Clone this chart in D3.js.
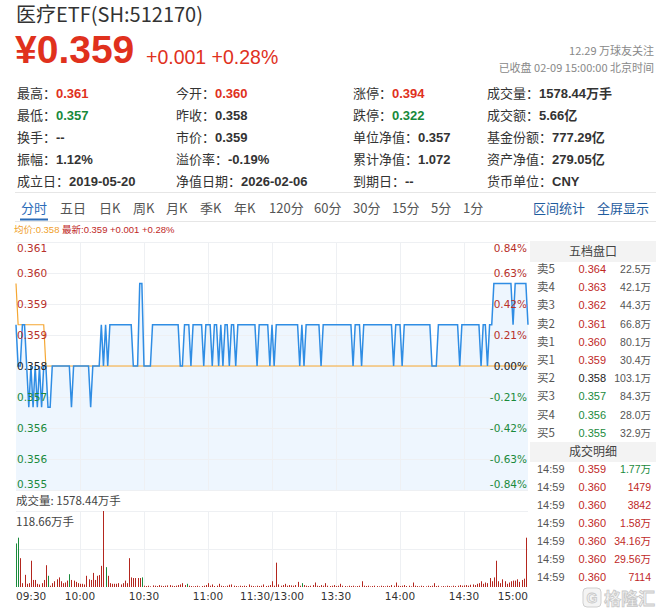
<!DOCTYPE html>
<html><head><meta charset="utf-8">
<script src="https://cdn.jsdelivr.net/npm/d3@7"></script>
<style>
html,body{margin:0;padding:0;background:#fff;}
svg{display:block;}
</style></head><body>
<svg id="c" width="656" height="615"></svg>
<script>
// ---------------- data ----------------
const title = "医疗ETF(SH:512170)";
const lastPrice = "¥0.359";
const changeText = "+0.001 +0.28%";
const followText = "12.29 万球友关注";
const statusText = "已收盘 02-09 15:00:00 北京时间";

const statLabels = [
  ["最高：","今开：","涨停：","成交量："],
  ["最低：","昨收：","跌停：","成交额："],
  ["换手：","市价：","单位净值：","基金份额："],
  ["振幅：","溢价率：","累计净值：","资产净值："],
  ["成立日：","净值日期：","到期日：","货币单位："]
];
const statValues = [
  ["0.361","0.360","0.394","1578.44万手"],
  ["0.357","0.358","0.322","5.66亿"],
  ["--","0.359","0.357","777.29亿"],
  ["1.12%","-0.19%","1.072","279.05亿"],
  ["2019-05-20","2026-02-06","--","CNY"]
];
const statColors = [
  ["up","up","up",""],
  ["down","","down",""],
  ["","","",""],
  ["","","",""],
  ["","","",""]
];

const tabs = ["分时","五日","日K","周K","月K","季K","年K","120分","60分","30分","15分","5分","1分"];
const tabLinks = ["区间统计","全屏显示"];

const prevClose = 0.358;
const avgText = "均价:0.358";
const latestText = "最新:0.359 +0.001 +0.28%";
const pctTicks = [0.84,0.63,0.42,0.21,0,-0.21,-0.42,-0.63,-0.84];
const priceTickLabels = ["0.361","0.360","0.359","0.359","0.358","0.357","0.356","0.356","0.355"];
const pctTickLabels = ["0.84%","0.63%","0.42%","0.21%","0.00%","-0.21%","-0.42%","-0.63%","-0.84%"];
const timeTicks = [0,30,60,90,120,150,180,210,240];
const timeTickLabels = ["09:30","10:00","10:30","11:00","11:30/13:00","13:30","14:00","14:30","15:00"];

// minute prices, 09:30 .. 15:00 (241 points)
const price = [
0.359,0.358,0.358,0.359,0.359,0.358,0.357,0.358,0.357,0.358,
0.357,0.358,0.357,0.358,0.358,0.357,0.357,0.358,0.358,0.358,
0.358,0.358,0.358,0.358,0.358,0.358,0.357,0.358,0.358,0.358,
0.358,0.358,0.358,0.358,0.358,0.357,0.358,0.358,0.358,0.358,
0.359,0.358,0.359,0.358,0.359,0.359,0.359,0.359,0.359,0.359,
0.359,0.359,0.359,0.359,0.359,0.358,0.358,0.358,0.360,0.360,
0.358,0.358,0.358,0.358,0.359,0.359,0.359,0.359,0.359,0.359,
0.359,0.359,0.359,0.359,0.359,0.359,0.359,0.358,0.358,0.359,
0.359,0.359,0.358,0.359,0.359,0.359,0.359,0.359,0.358,0.359,
0.359,0.359,0.358,0.359,0.359,0.358,0.359,0.358,0.359,0.359,
0.358,0.359,0.359,0.358,0.359,0.359,0.359,0.359,0.359,0.359,
0.359,0.359,0.359,0.358,0.359,0.359,0.359,0.359,0.359,0.358,
0.359,0.358,0.359,0.359,0.359,0.359,0.359,0.359,0.359,0.359,
0.359,0.359,0.359,0.358,0.359,0.358,0.359,0.359,0.359,0.359,
0.359,0.359,0.359,0.358,0.359,0.359,0.359,0.359,0.359,0.359,
0.359,0.359,0.359,0.359,0.359,0.359,0.359,0.359,0.358,0.359,
0.359,0.359,0.358,0.359,0.359,0.359,0.359,0.359,0.359,0.359,
0.359,0.359,0.359,0.359,0.359,0.359,0.359,0.358,0.359,0.359,
0.359,0.358,0.359,0.359,0.359,0.359,0.359,0.359,0.359,0.359,
0.359,0.359,0.359,0.359,0.359,0.358,0.358,0.358,0.359,0.359,
0.359,0.359,0.359,0.359,0.359,0.359,0.359,0.359,0.358,0.359,
0.359,0.359,0.359,0.359,0.359,0.359,0.359,0.359,0.358,0.359,
0.359,0.358,0.359,0.359,0.360,0.360,0.360,0.360,0.360,0.360,
0.360,0.360,0.360,0.359,0.360,0.360,0.360,0.360,0.360,0.360,0.359
];
// average price line points [minute, price]
const avgPoints = [[0,0.360],[1,0.359],[13,0.359],[14,0.358],[240,0.358]];

// minute volume, 万手
const volMaxLabel = "118.66万手";
const volTotalLabel = "成交量: 1578.44万手";
const volume = [
68,77,45,6,19,5,6,41,11,11,
5,4,6,11,34,17.5,2,6,9,12,
15,9,6,7,10,20,11,10,8,6,
5,5,4,17.5,12,11,22,11,17.5,18.6,
33,118.66,31,17.5,6,5,5,5,6,4,
6,10,6,45,15,14,14,14,14,15,
2,1.5,2,1,2.5,2,1.5,3,2,1.5,
2,2.5,3,2,1.5,2,3,4,6,3,
5,2,1.5,1,1.5,2,1,1.5,2,3,
6,2,4,1.5,2,5,2,1.5,1,2,
3.5,4,2,1.5,1,2,1.5,2,1.5,4,
2,1.5,1,2,1.5,2,4,1.5,2,3,
9,2,38,4,2,3,5,2,3,2.5,
2,3,8,2,6,3,2,1.5,2,3,
7,2,1.5,3,2,6,2,1.5,2,3,
1.5,2,5,2,1.5,1,2,1.5,2,1,
1.5,2,9,2,1.5,2,1,1.5,2,1.5,
1,2,1.5,1,2,1.5,3,2,7,2,
1.5,2,3,1.5,2,1,7,2,1.5,1,
2,1.5,1,2,1.5,2,6,1.5,2,1,
1.5,1,2,1.5,1,2,1.5,2,3,2,
2.5,3,2,3.5,4,3,5,6,9,5,
7,6,14,9,15,41,9,6,12,9,
5,7,9,10,10,12,8,11,13,77,0
];
const greenBars = [0,1,15,25,42,59,80,134];

const bookTitle = "五档盘口";
const bookLabels = ["卖5","卖4","卖3","卖2","卖1","买1","买2","买3","买4","买5"];
const bookPrices = [0.364,0.363,0.362,0.361,0.360,0.359,0.358,0.357,0.356,0.355];
const bookVols = ["22.5万","42.1万","44.3万","66.8万","80.1万","30.4万","103.1万","84.3万","28.0万","32.9万"];

const tradeTitle = "成交明细";
const tradeTimes = ["14:59","14:59","14:59","14:59","14:59","14:59","14:59"];
const tradePrices = [0.359,0.360,0.360,0.360,0.360,0.360,0.360];
const tradeVols = ["1.77万","1479","3842","1.58万","34.16万","29.56万","7114"];
const tradeSide = ["down","up","up","up","up","up","up"];

// ---------------- drawing ----------------
const CJK = "'Noto Sans CJK SC','Noto Sans',sans-serif";
const LAT = "'Liberation Sans',Arial,sans-serif";
const DV = "'DejaVu Sans',sans-serif";
const RED = "#e0311d", GREEN = "#17893b", DRED = "#c0281f", DGREEN = "#1a8a3c";
const svg = d3.select("#c");

// header
svg.append("text").attr("x",16).attr("y",22).attr("font-family",CJK).attr("font-size",20)
  .attr("fill","#333").text(title);
svg.append("text").attr("x",15).attr("y",63).attr("font-family",LAT).attr("font-size",39)
  .attr("font-weight","bold").attr("fill",RED).text(lastPrice);
svg.append("text").attr("x",146).attr("y",64).attr("font-family",LAT).attr("font-size",19.5)
  .attr("fill",RED).text(changeText);
svg.append("text").attr("x",654).attr("y",55).attr("text-anchor","end").attr("font-family",CJK)
  .attr("font-size",11).attr("fill","#888").text(followText);
svg.append("text").attr("x",654).attr("y",72).attr("text-anchor","end").attr("font-family",CJK)
  .attr("font-size",11).attr("fill","#888").text(statusText);

// stats grid
const colX = [17,176,353,487];
statLabels.forEach((row,r)=>{
  row.forEach((lab,c)=>{
    const t = svg.append("text").attr("x",colX[c]).attr("y",98+r*22).attr("font-size",13);
    t.append("tspan").attr("font-family",CJK).attr("fill","#333").text(lab);
    const col = statColors[r][c]==="up"?RED:(statColors[r][c]==="down"?GREEN:"#333");
    t.append("tspan").attr("font-family",LAT+","+CJK).attr("font-weight","bold").attr("fill",col).text(statValues[r][c]);
  });
});
svg.append("line").attr("x1",15).attr("x2",656).attr("y1",192.5).attr("y2",192.5).attr("stroke","#e6e6e6");
svg.append("line").attr("x1",15).attr("x2",656).attr("y1",221.5).attr("y2",221.5).attr("stroke","#e6e6e6");

// tabs
const tabX = [21,60,99,133,166,200,234,269,314,353,392,431,463];
tabs.forEach((t,i)=>{
  svg.append("text").attr("x",tabX[i]).attr("y",213).attr("font-family",CJK).attr("font-size",13)
    .attr("fill",i===0?"#2b6cb8":"#555").text(t);
});
svg.append("rect").attr("x",20).attr("y",218.5).attr("width",28).attr("height",2).attr("fill","#2b6cb8");
const linkX = [533,597];
tabLinks.forEach((t,i)=>{
  svg.append("text").attr("x",linkX[i]).attr("y",213).attr("font-family",CJK).attr("font-size",13)
    .attr("fill","#1f5c9e").text(t);
});

// legend
svg.append("text").attr("x",14).attr("y",233).attr("font-family",LAT+","+CJK).attr("font-size",9.5)
  .attr("fill","#f0a02a").text(avgText);
svg.append("text").attr("x",62).attr("y",233).attr("font-family",LAT+","+CJK).attr("font-size",9.5)
  .attr("fill","#c0281f").text(latestText);

// price chart
const L = 16, R = 528, T = 242, B = 490;
const x = d3.scaleLinear().domain([0,240]).range([L,R]);
const y = d3.scaleLinear().domain([prevClose*(1-0.0084), prevClose*(1+0.0084)]).range([B,T]);
const g = svg.append("g");

const area = d3.area().x((d,i)=>x(i)).y0(B).y1(d=>y(d));
g.append("path").datum(price).attr("d",area).attr("fill","#eef6fe");

pctTicks.forEach(p=>{
  const yy = Math.round(y(prevClose*(1+p/100)))+0.5;
  g.append("line").attr("x1",L).attr("x2",R).attr("y1",yy).attr("y2",yy).attr("stroke","#eef0f3");
});
timeTicks.slice(1,-1).forEach(t=>{
  const xx = Math.round(x(t))+0.5;
  g.append("line").attr("x1",xx).attr("x2",xx).attr("y1",T).attr("y2",B).attr("stroke","#eef0f3");
});

const line = d3.line().x((d,i)=>x(i)).y(d=>y(d));
g.append("path").datum(avgPoints).attr("d",d3.line().x(d=>x(d[0])).y(d=>y(d[1])))
  .attr("fill","none").attr("stroke","#f5a733").attr("stroke-width",1.2);
g.append("path").datum(price).attr("d",line).attr("fill","none").attr("stroke","#2f8de4").attr("stroke-width",1.5);

pctTicks.forEach((p,i)=>{
  let yy = y(prevClose*(1+p/100));
  yy = Math.max(248, Math.min(484, yy));
  const col = p>0?"#b8312a":(p<0?"#1a8a3c":"#222");
  g.append("text").attr("x",17).attr("y",yy+4).attr("font-family",DV).attr("font-size",10.5)
    .attr("fill",col).text(priceTickLabels[i]);
  g.append("text").attr("x",527).attr("y",yy+4).attr("text-anchor","end").attr("font-family",DV).attr("font-size",10.5)
    .attr("fill",col).text(pctTickLabels[i]);
});

// volume chart
const VT = 511, VB = 587;
const vy = d3.scaleLinear().domain([0,118.66]).range([VB,VT]);
[VT,(VT+VB)/2].forEach(v=>{
  svg.append("line").attr("x1",L).attr("x2",R).attr("y1",Math.round(v)+0.5).attr("y2",Math.round(v)+0.5).attr("stroke","#eef0f3");
});
timeTicks.slice(1,-1).forEach(t=>{
  const xx = Math.round(x(t))+0.5;
  svg.append("line").attr("x1",xx).attr("x2",xx).attr("y1",VT).attr("y2",VB).attr("stroke","#eef0f3");
});
svg.append("text").attr("x",16).attr("y",505).attr("font-family",CJK).attr("font-size",11.5)
  .attr("fill","#444").text(volTotalLabel);
svg.append("text").attr("x",16).attr("y",526).attr("font-family",CJK).attr("font-size",11.5)
  .attr("fill","#444").text(volMaxLabel);
svg.append("g").selectAll("rect").data(volume).join("rect")
  .attr("x",(d,i)=>Math.round(x(i))).attr("width",1)
  .attr("y",d=>vy(d)).attr("height",d=>VB-vy(d))
  .attr("fill",(d,i)=>greenBars.includes(i)?"#1a8a3c":"#b3261e");

timeTicks.forEach((t,i)=>{
  const anchor = i===0?"start":(i===timeTicks.length-1?"end":"middle");
  svg.append("text").attr("x",x(t)).attr("y",600).attr("text-anchor",anchor).attr("font-family",DV)
    .attr("font-size",10.5).attr("fill","#333").text(timeTickLabels[i]);
});

// right panel
const PX = 530;
svg.append("rect").attr("x",PX).attr("y",241).attr("width",656-PX).attr("height",21).attr("fill","#f3f3f3");
svg.append("text").attr("x",593).attr("y",256).attr("text-anchor","middle").attr("font-family",CJK)
  .attr("font-size",12).attr("fill","#444").text(bookTitle);
const pc = v => v>prevClose?DRED:(v<prevClose?DGREEN:"#222");
const NUMF = LAT+","+CJK;
bookLabels.forEach((lab,i)=>{
  const yy = 273 + i*18.2;
  svg.append("text").attr("x",537).attr("y",yy).attr("font-family",CJK).attr("font-size",11.5).attr("fill","#555").text(lab);
  svg.append("text").attr("x",606).attr("y",yy).attr("text-anchor","end").attr("font-family",NUMF).attr("font-size",11)
    .attr("fill",pc(bookPrices[i])).text(bookPrices[i].toFixed(3));
  svg.append("text").attr("x",651).attr("y",yy).attr("text-anchor","end").attr("font-family",NUMF).attr("font-size",10.5)
    .attr("fill","#555").text(bookVols[i]);
});
svg.append("rect").attr("x",PX).attr("y",442).attr("width",656-PX).attr("height",20).attr("fill","#f3f3f3");
svg.append("text").attr("x",593).attr("y",456).attr("text-anchor","middle").attr("font-family",CJK)
  .attr("font-size",12).attr("fill","#444").text(tradeTitle);
tradeTimes.forEach((t,i)=>{
  const yy = 473 + i*18.05;
  svg.append("text").attr("x",537).attr("y",yy).attr("font-family",NUMF).attr("font-size",11).attr("fill","#555").text(t);
  svg.append("text").attr("x",606).attr("y",yy).attr("text-anchor","end").attr("font-family",NUMF).attr("font-size",11)
    .attr("fill",pc(tradePrices[i])).text(tradePrices[i].toFixed(3));
  svg.append("text").attr("x",651).attr("y",yy).attr("text-anchor","end").attr("font-family",NUMF).attr("font-size",10.5)
    .attr("fill",tradeSide[i]==="up"?DRED:DGREEN).text(tradeVols[i]);
});

// watermark
svg.append("rect").attr("x",583).attr("y",588).attr("width",18).attr("height",19).attr("rx",4)
  .attr("fill","#f4f4f4").attr("stroke","#cfcfcf");
svg.append("text").attr("x",592).attr("y",603).attr("text-anchor","middle").attr("font-family",LAT)
  .attr("font-weight","bold").attr("font-size",14).attr("fill","#f4f4f4").attr("stroke","#c8c8c8").attr("stroke-width",0.8).text("G");
svg.append("text").attr("x",604).attr("y",605).attr("font-family",CJK).attr("font-weight","bold")
  .attr("font-size",17).attr("fill","#f4f4f4").attr("stroke","#c8c8c8").attr("stroke-width",0.8).text("格隆汇");
</script>
</body></html>
